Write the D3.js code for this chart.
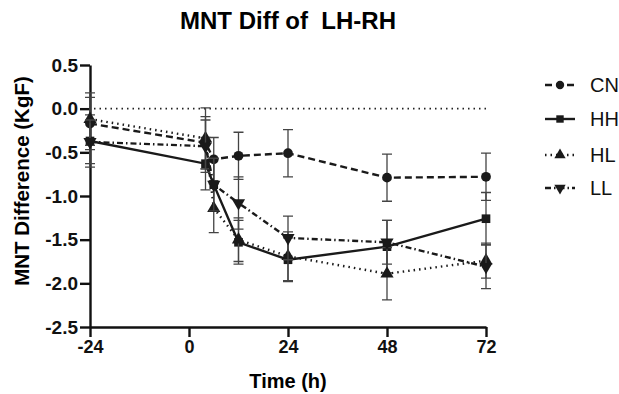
<!DOCTYPE html>
<html>
<head>
<meta charset="utf-8">
<script src="https://cdn.jsdelivr.net/npm/d3@7"></script>
<style>
body { margin: 0; background: #fff; }
text { font-family: "Liberation Sans", Arial, sans-serif; }
</style>
</head>
<body>
<div class="container"></div>
<script>
// Data
const times = [-24, 4, 6, 12, 24, 48, 72];
const groups = ["CN", "HH", "HL", "LL"];
const cnMean = [-0.17, -0.39, -0.58, -0.54, -0.51, -0.79, -0.78];
const cnErr  = [0.30, 0.30, 0.25, 0.27, 0.27, 0.27, 0.27];
const hhMean = [-0.37, -0.63, -0.87, -1.53, -1.73, -1.58, -1.26];
const hhErr  = [0.30, 0.30, 0.30, 0.25, 0.25, 0.30, 0.30];
const hlMean = [-0.12, -0.34, -1.14, -1.50, -1.69, -1.89, -1.74];
const hlErr  = [0.30, 0.35, 0.28, 0.25, 0.28, 0.30, 0.20];
const llMean = [-0.38, -0.43, -0.87, -1.08, -1.48, -1.53, -1.81];
const llErr  = [0.25, 0.30, 0.30, 0.30, 0.25, 0.25, 0.25];
const xTicks = [-24, 0, 24, 48, 72];
const yTicks = [0.5, 0.0, -0.5, -1.0, -1.5, -2.0, -2.5];

const w = 619, h = 394;
const padL = 90, padR = 486, padT = 65, padB = 327;

const series = [
  {name: "CN", mean: cnMean, err: cnErr, dash: "7,4", symbol: d3.symbolCircle},
  {name: "HH", mean: hhMean, err: hhErr, dash: null, symbol: d3.symbolSquare},
  {name: "HL", mean: hlMean, err: hlErr, dash: "1.5,4", symbol: d3.symbolTriangle},
  {name: "LL", mean: llMean, err: llErr, dash: "6,3,1.5,3", symbol: d3.symbolTriangle, flip: true}
];

const xScale = d3.scaleLinear().domain([-24, 72]).range([padL, padR]);
const yScale = d3.scaleLinear().domain([-2.5, 0.5]).range([padB, padT]);

const svg = d3.select(".container").append("svg")
  .attr("width", w).attr("height", h);

// title
svg.append("text")
  .attr("x", 288).attr("y", 29)
  .style("font-size", "24px").style("font-weight", "bold")
  .style("text-anchor", "middle")
  .style("white-space", "pre")
  .text("MNT Diff of  LH-RH");

// axes
const fmt = d => d3.format(".1f")(d).replace("−", "-");
const xAxis = d3.axisBottom(xScale).tickValues(xTicks).tickSize(10).tickSizeOuter(0)
  .tickFormat(d => String(d));
const gx = svg.append("g").attr("transform", `translate(0,${padB})`).call(xAxis);
const yAxis = d3.axisLeft(yScale).tickValues(yTicks).tickSize(10).tickSizeOuter(0)
  .tickPadding(2).tickFormat(fmt);
const gy = svg.append("g").attr("transform", `translate(${padL},0)`).call(yAxis);
[gx, gy].forEach(g => {
  g.select(".domain").attr("stroke", "#111").attr("stroke-width", 2.4);
  g.selectAll(".tick line").attr("stroke", "#111").attr("stroke-width", 2.4);
  g.selectAll(".tick text").style("font-weight", "bold")
    .style("font-family", "'Liberation Sans', Arial, sans-serif").attr("fill", "#111");
});
gx.selectAll(".tick text").style("font-size", "18px");
gy.selectAll(".tick text").style("font-size", "19px");

// axis labels
svg.append("text")
  .attr("x", 288).attr("y", 388)
  .style("font-size", "20px").style("font-weight", "bold")
  .style("text-anchor", "middle").text("Time (h)");
svg.append("text")
  .attr("transform", `translate(29,181) rotate(-90)`)
  .style("font-size", "20.5px").style("font-weight", "bold")
  .style("text-anchor", "middle").text("MNT Difference (KgF)");

// zero line
svg.append("line")
  .attr("x1", xScale(-24) + 4).attr("x2", xScale(72))
  .attr("y1", yScale(0)).attr("y2", yScale(0))
  .attr("stroke", "#222").attr("stroke-width", 1.8)
  .attr("stroke-dasharray", "1.5,4");

const plot = svg.append("g");

series.forEach(s => {
  const pts = times.map((t, i) => ({t: t, m: s.mean[i], e: s.err[i]}));
  const g = plot.append("g");
  // error bars
  g.selectAll(".eb").data(pts).enter().append("path")
    .attr("d", d => {
      const x = xScale(d.t), y1 = yScale(d.m + d.e), y2 = yScale(d.m - d.e);
      return `M${x - 5},${y1}H${x + 5}M${x},${y1}V${y2}M${x - 5},${y2}H${x + 5}`;
    })
    .attr("stroke", "#444").attr("stroke-width", 1.3).attr("fill", "none");
  // line
  const line = d3.line().x(d => xScale(d.t)).y(d => yScale(d.m));
  g.append("path").datum(pts).attr("d", line)
    .attr("fill", "none").attr("stroke", "#1a1a1a").attr("stroke-width", 2.4)
    .attr("stroke-dasharray", s.dash);
  // markers
  g.selectAll(".mk").data(pts).enter().append("path")
    .attr("d", d3.symbol().type(s.symbol).size(75))
    .attr("transform", d => `translate(${xScale(d.t)},${yScale(d.m)})${s.flip ? " rotate(180)" : ""}`)
    .attr("fill", "#1a1a1a");
});

// legend
const legend = svg.append("g");
const legendY = [85, 119, 155, 188];
series.forEach((s, i) => {
  const y = legendY[i];
  legend.append("line")
    .attr("x1", 545).attr("x2", 575).attr("y1", y).attr("y2", y)
    .attr("stroke", "#1a1a1a").attr("stroke-width", 2.4)
    .attr("stroke-dasharray", s.dash);
  legend.append("path")
    .attr("d", d3.symbol().type(s.symbol).size(55))
    .attr("transform", `translate(560,${y})${s.flip ? " rotate(180)" : ""}`)
    .attr("fill", "#1a1a1a");
  legend.append("text")
    .attr("x", 590).attr("y", y + 7)
    .style("font-size", "20px").attr("fill", "#111")
    .text(s.name);
});
</script>
</body>
</html>
